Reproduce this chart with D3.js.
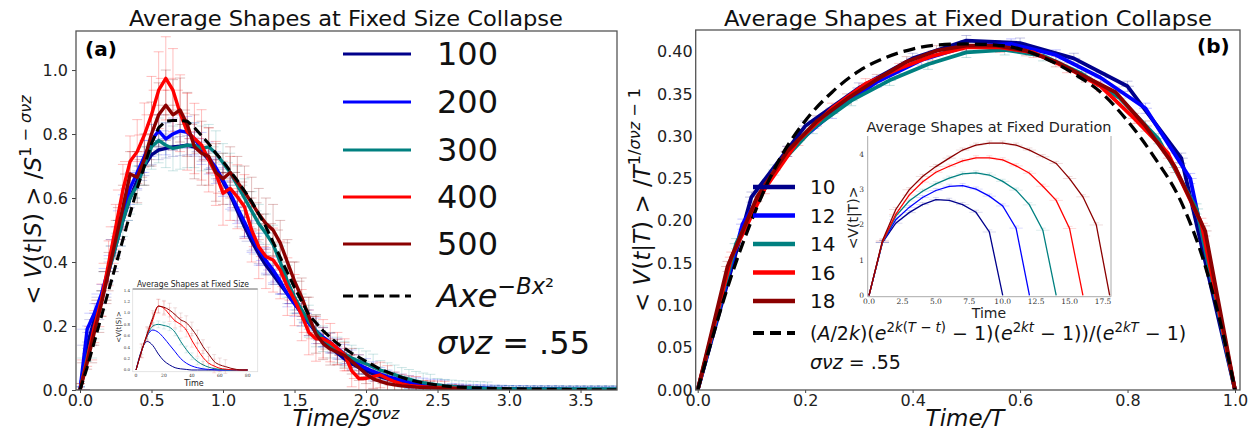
<!DOCTYPE html>
<html><head><meta charset="utf-8">
<script src="https://cdn.jsdelivr.net/npm/d3@7"></script>
<style>
body{margin:0;background:#fff;}
svg{display:block;font-family:"DejaVu Sans",sans-serif;}
</style></head><body>
<svg id="c" width="1256" height="433"></svg>
<script>
// ---------------- DATA ----------------
const sizeLabels = ["100","200","300","400","500"];
const durationLabels = ["10","12","14","16","18"];
const seriesColors = ["#00008b","#0000ff","#008080","#ff0000","#8b0000"];

// Panel (a): collapsed shapes, x = Time/S^σνz on a 0.05 grid
const leftStep = 0.05;
const s100 = [0,0.14,0.22,0.29,0.37,0.45,0.53,0.6,0.655,0.7,0.735,0.75,0.755,0.76,0.762,0.765,0.76,0.745,0.72,0.69,0.65,0.61,0.56,0.51,0.465,0.425,0.39,0.36,0.33,0.3,0.27,0.24,0.21,0.18,0.155,0.135,0.115,0.097,0.082,0.07,0.06,0.05,0.042,0.035,0.029,0.024,0.02,0.016,0.013,0.011,0.009,0.008,0.007,0.006,0.005,0.004,0.004,0.003,0.003,0.003,0.002,0.002,0.002,0.002,0.002,0.002,0.002,0.002,0.002,0.002,0.002,0.002,0.002,0.002,0.002,0.002,0.002];
const s200 = [0,0.19,0.24,0.3,0.38,0.47,0.56,0.63,0.68,0.73,0.78,0.81,0.785,0.8,0.81,0.805,0.785,0.755,0.725,0.695,0.655,0.615,0.57,0.525,0.48,0.44,0.405,0.375,0.34,0.3,0.27,0.24,0.21,0.185,0.165,0.148,0.13,0.112,0.095,0.08,0.068,0.058,0.05,0.042,0.036,0.03,0.025,0.02,0.017,0.014,0.012,0.011,0.01,0.009,0.008,0.007,0.007,0.006,0.005,0.005,0.004,0.004,0.004,0.003,0.003,0.003,0.003,0.003,0.002,0.002,0.002,0.002,0.002,0.002,0.002,0.002,0.002];
const s300 = [0,0.1,0.19,0.28,0.37,0.45,0.53,0.6,0.64,0.7,0.76,0.78,0.765,0.755,0.76,0.765,0.765,0.755,0.76,0.74,0.71,0.68,0.64,0.6,0.56,0.52,0.49,0.455,0.4,0.34,0.29,0.25,0.215,0.185,0.16,0.14,0.125,0.112,0.1,0.09,0.082,0.072,0.062,0.055,0.048,0.04,0.034,0.028,0.023,0.019,0.016,0.013,0.011,0.009,0.008,0.007,0.006,0.005,0.005,0.004,0.004,0.003,0.003,0.003,0.003,0.003,0.003,0.003,0.003,0.003,0.003,0.003,0.003,0.003,0.003,0.003,0.003];
const s400 = [0,0.094,0.198,0.281,0.396,0.51,0.625,0.714,0.745,0.797,0.86,0.937,0.974,0.937,0.865,0.807,0.786,0.766,0.719,0.677,0.615,0.63,0.604,0.573,0.5,0.448,0.417,0.406,0.375,0.323,0.281,0.234,0.18,0.16,0.16,0.148,0.13,0.11,0.06,0.036,0.036,0.042,0.047,0.036,0.026,0.019,0.014,0.012,0.01,0.009,0.008,0.007,0.006,0.005,0.004];
const s500 = [0,0.085,0.18,0.27,0.37,0.47,0.57,0.675,0.665,0.72,0.8,0.86,0.89,0.86,0.875,0.83,0.76,0.74,0.73,0.68,0.66,0.68,0.65,0.62,0.585,0.55,0.52,0.5,0.46,0.4,0.34,0.29,0.23,0.175,0.145,0.128,0.118,0.108,0.09,0.07,0.05,0.035,0.027,0.02,0.016,0.013,0.011,0.009,0.008,0.007,0.006,0.005,0.005,0.004,0.004];
// error bar half-heights on a 0.1 grid
const e100 = [0.01,0.02,0.03,0.03,0.03,0.03,0.03,0.03,0.03,0.03,0.03,0.03,0.03,0.03,0.03,0.02,0.02,0.02,0.02,0.02,0.01,0.01,0.01,0.01,0.01,0.01,0.01,0.01,0.01,0.01,0.01,0.01,0.01,0.01,0.01,0.01,0.01,0.01,0.01];
const e200 = [0.01,0.03,0.04,0.05,0.05,0.05,0.05,0.05,0.05,0.05,0.05,0.05,0.05,0.04,0.04,0.04,0.04,0.03,0.03,0.03,0.03,0.02,0.02,0.02,0.02,0.02,0.01,0.01,0.01,0.01,0.01,0.01,0.01,0.01,0.01,0.01,0.01,0.01,0.01];
const e300 = [0.01,0.03,0.04,0.05,0.06,0.07,0.07,0.07,0.07,0.07,0.06,0.06,0.06,0.06,0.05,0.05,0.05,0.04,0.04,0.04,0.04,0.03,0.03,0.03,0.03,0.02,0.02,0.02,0.02,0.01,0.01,0.01,0.01,0.01,0.01,0.01,0.01,0.01,0.01];
const e400 = [0.02,0.05,0.07,0.08,0.1,0.12,0.13,0.12,0.11,0.1,0.1,0.1,0.1,0.1,0.09,0.08,0.07,0.06,0.05,0.05,0.04,0.04,0.03,0.03,0.02,0.02,0.01,0.01];
const e500 = [0.02,0.04,0.06,0.07,0.08,0.1,0.11,0.1,0.1,0.09,0.08,0.08,0.08,0.08,0.07,0.06,0.06,0.05,0.04,0.04,0.03,0.03,0.02,0.02,0.02,0.01,0.01,0.01];
const leftXErr = 0.07;
// fit Axe^{-Bx^2}
const fitLX = [0,0.05,0.1,0.15,0.2,0.25,0.3,0.35,0.4,0.45,0.5,0.55,0.6,0.65,0.7,0.75,0.8,0.85,0.9,0.95,1.0,1.1,1.2,1.3,1.4,1.5,1.6,1.7,1.8,1.9,2.0,2.1,2.2,2.3,2.4,2.5,2.6,2.8,3.0,3.2,3.4,3.6,3.8];
const fitLY = [0,0.07,0.15,0.23,0.31,0.39,0.47,0.55,0.63,0.7,0.77,0.82,0.84,0.842,0.842,0.84,0.82,0.795,0.77,0.74,0.715,0.655,0.59,0.51,0.415,0.32,0.235,0.185,0.145,0.115,0.09,0.065,0.047,0.032,0.022,0.015,0.01,0.006,0.004,0.003,0.002,0.001,0.001];

// Panel (b): collapsed shapes, x = t/T (points t = 0..T)
const d10 = [0,0.228,0.312,0.357,0.392,0.413,0.41,0.392,0.359,0.274,0];
const d12 = [0,0.196,0.282,0.327,0.364,0.39,0.406,0.409,0.396,0.369,0.333,0.25,0];
const d14 = [0,0.173,0.26,0.309,0.342,0.366,0.385,0.399,0.402,0.395,0.374,0.345,0.297,0.214,0];
const d16 = [0,0.157,0.238,0.295,0.333,0.362,0.38,0.395,0.405,0.405,0.399,0.381,0.359,0.321,0.28,0.197,0];
const d18 = [0,0.146,0.229,0.282,0.318,0.344,0.367,0.388,0.401,0.407,0.407,0.401,0.388,0.37,0.352,0.312,0.263,0.188,0];
const rightXErr = 0.012, rightYErr = 0.006;
const fitRX = [0,0.02,0.05,0.1,0.15,0.2,0.25,0.3,0.35,0.4,0.45,0.5,0.55,0.6,0.65,0.7,0.75,0.8,0.85,0.9,0.95,0.98,1.0];
const fitRY = [0,0.045,0.11,0.2,0.27,0.318,0.352,0.377,0.393,0.403,0.408,0.409,0.408,0.403,0.391,0.374,0.352,0.318,0.275,0.222,0.135,0.06,0];

// Inset (a): raw shapes at fixed size, time grid step 4
const insetAStep = 4;
const ia100 = [0,0.35,0.5,0.43,0.28,0.16,0.09,0.04,0.02,0.01,0,0,0,0,0,0,0,0,0,0,0];
const ia200 = [0,0.33,0.6,0.7,0.66,0.56,0.44,0.32,0.2,0.12,0.07,0.04,0.02,0.01,0.005,0,0,0,0,0,0];
const ia300 = [0,0.33,0.6,0.77,0.8,0.78,0.75,0.66,0.5,0.36,0.24,0.15,0.09,0.05,0.025,0.012,0.005,0,0,0,0];
const ia400 = [0,0.33,0.62,0.88,1.12,1.08,0.97,0.86,0.8,0.7,0.52,0.36,0.22,0.12,0.07,0.03,0.015,0.005,0,0,0];
const ia500 = [0,0.34,0.64,0.92,1.12,1.1,1.05,0.97,0.88,0.83,0.72,0.58,0.41,0.28,0.15,0.09,0.06,0.03,0.01,0,0];
const insetAXTicks = [0,20,40,60,80];
const insetAYTicks = [0,0.2,0.4,0.6,0.8,1.0,1.2,1.4];

// Inset (b): raw shapes at fixed duration, t = 0..T
const ib10 = [0,1.5,2.05,2.35,2.58,2.72,2.7,2.58,2.36,1.8,0];
const ib12 = [0,1.5,2.15,2.5,2.78,2.98,3.1,3.12,3.02,2.82,2.54,1.91,0];
const ib14 = [0,1.5,2.25,2.68,2.96,3.17,3.33,3.45,3.48,3.42,3.24,2.99,2.57,1.85,0];
const ib16 = [0,1.52,2.3,2.85,3.22,3.5,3.67,3.82,3.91,3.91,3.85,3.68,3.47,3.1,2.7,1.9,0];
const ib18 = [0,1.55,2.44,3.0,3.38,3.66,3.9,4.13,4.27,4.33,4.33,4.27,4.13,3.94,3.75,3.32,2.8,2.0,0];
const insetBXTicks = [0,2.5,5,7.5,10,12.5,15,17.5];
const insetBYTicks = [0,1,2,3,4];

// axis ticks
const leftXTicks = [0,0.5,1.0,1.5,2.0,2.5,3.0,3.5];
const leftYTicks = [0,0.2,0.4,0.6,0.8,1.0];
const rightXTicks = [0,0.2,0.4,0.6,0.8,1.0];
const rightYTicks = [0,0.05,0.1,0.15,0.2,0.25,0.3,0.35,0.4];

// ---------------- DRAW ----------------
const svg = d3.select("#c");
svg.append("rect").attr("width",1256).attr("height",433).attr("fill","#fff");

function rich(sel, parts, fs, supShift) {
  const sh = supShift ?? fs * 0.42;
  let inSup = false;
  parts.forEach(([t, st]) => {
    const it = st.includes("i"), sp = st.includes("s");
    const ts = sel.append("tspan").text(t);
    if (it) ts.attr("font-style", "italic");
    if (sp) ts.attr("font-size", fs * 0.7);
    if (sp && !inSup) ts.attr("dy", -sh);
    if (!sp && inSup) ts.attr("dy", sh);
    inSup = sp;
  });
}

function frameAxes(g, x, y, xt, yt, xfmt, yfmt, opt) {
  const [x0, x1] = x.range(), [y0, y1] = y.range();
  const ax = g.append("g").attr("transform", `translate(0,${y0})`)
    .call(d3.axisBottom(x).tickValues(xt).tickFormat(xfmt).tickSizeOuter(0).tickSize(opt.xts).tickPadding(opt.xtp));
  const ay = g.append("g").attr("transform", `translate(${x0},0)`)
    .call(d3.axisLeft(y).tickValues(yt).tickFormat(yfmt).tickSizeOuter(0).tickSize(opt.yts).tickPadding(opt.ytp));
  [ax, ay].forEach(a => {
    a.select(".domain").remove();
    a.selectAll("text").attr("font-size", opt.fs).attr("fill", "#222").attr("font-family", "DejaVu Sans");
    a.selectAll("line").attr("stroke", "#444");
  });
  g.append("rect").attr("x", x0).attr("y", y1).attr("width", x1 - x0).attr("height", y0 - y1)
    .attr("fill", "none").attr("stroke", "#555").attr("stroke-width", 1.3);
}

// ===== Panel (a) =====
const xL = d3.scaleLinear().domain([-0.028, 3.755]).range([76, 617]);
const yL = d3.scaleLinear().domain([0, 1.122]).range([390, 31]);
const gA = svg.append("g");
svg.append("clipPath").attr("id", "clipA").append("rect").attr("x", 76).attr("y", 31).attr("width", 541).attr("height", 359);
const pA = gA.append("g").attr("clip-path", "url(#clipA)");

const leftSeries = [s100, s200, s300, s400, s500];
const leftErrs = [e100, e200, e300, e400, e500];
// error bars
leftSeries.forEach((vals, k) => {
  const eg = pA.append("g").attr("stroke", seriesColors[k]).attr("stroke-opacity", k >= 3 ? 0.26 : 0.2).attr("stroke-width", 1);
  vals.forEach((v, i) => {
    const xv = i * leftStep, e = leftErrs[k][Math.floor(i / 2)] ?? 0.01;
    const px = xL(xv);
    eg.append("line").attr("x1", px).attr("x2", px).attr("y1", yL(v - e)).attr("y2", yL(v + e));
    eg.append("line").attr("x1", px - 5).attr("x2", px + 5).attr("y1", yL(v - e)).attr("y2", yL(v - e));
    eg.append("line").attr("x1", px - 5).attr("x2", px + 5).attr("y1", yL(v + e)).attr("y2", yL(v + e));
    eg.append("line").attr("x1", xL(xv - leftXErr)).attr("x2", xL(xv + leftXErr)).attr("y1", yL(v)).attr("y2", yL(v));
  });
});
const lineL = d3.line().x((d, i) => xL(i * leftStep)).y(d => yL(d));
leftSeries.forEach((vals, k) => {
  pA.append("path").attr("d", lineL(vals)).attr("fill", "none").attr("stroke", seriesColors[k])
    .attr("stroke-width", 3.4).attr("stroke-linejoin", "round");
});
pA.append("path").attr("d", d3.line().x((d, i) => xL(fitLX[i])).y(d => yL(d))(fitLY))
  .attr("fill", "none").attr("stroke", "#000").attr("stroke-width", 3).attr("stroke-dasharray", "10,5");

frameAxes(gA, xL, yL, leftXTicks, leftYTicks, d3.format(".1f"), d3.format(".1f"),
  {xts: 3, xtp: 2, yts: 4, ytp: 4, fs: 16});

gA.append("text").attr("x", 346).attr("y", 26).attr("text-anchor", "middle").attr("font-size", 22)
  .attr("textLength", 434).attr("lengthAdjust", "spacingAndGlyphs").attr("fill", "#111")
  .text("Average Shapes at Fixed Size Collapse");
gA.append("text").attr("x", 85).attr("y", 56).attr("font-size", 20).attr("font-weight", "bold").text("(a)");
rich(gA.append("text").attr("transform", "translate(41,200) rotate(-90)").attr("text-anchor", "middle").attr("font-size", 23).attr("fill", "#111"),
  [["< ",""],["V","i"],["(",""],["t","i"],["|",""],["S","i"],[") > /",""],["S","i"],["1 − ","s"],["σνz","si"]], 23);
rich(gA.append("text").attr("x", 346).attr("y", 426).attr("text-anchor", "middle").attr("font-size", 23).attr("fill", "#111"),
  [["Time/S","i"],["σνz","si"]], 23, 7);

// legend (a)
const legAY = [54, 102, 150, 197, 244];
sizeLabels.forEach((lab, k) => {
  gA.append("line").attr("x1", 343).attr("x2", 411).attr("y1", legAY[k]).attr("y2", legAY[k])
    .attr("stroke", seriesColors[k]).attr("stroke-width", 3);
  gA.append("text").attr("x", 437).attr("y", legAY[k]).attr("dominant-baseline", "central")
    .attr("font-size", 32).attr("fill", "#111").text(lab);
});
gA.append("line").attr("x1", 343).attr("x2", 411).attr("y1", 296).attr("y2", 296)
  .attr("stroke", "#000").attr("stroke-width", 3).attr("stroke-dasharray", "10,5.5");
rich(gA.append("text").attr("x", 437).attr("y", 307).attr("font-size", 32).attr("fill", "#111"),
  [["Axe","i"],["−","s"],["Bx","si"],["²","s"]], 32);
rich(gA.append("text").attr("x", 437).attr("y", 354).attr("font-size", 32).attr("fill", "#111"),
  [["σνz","i"],[" = .55",""]], 32);

// inset (a)
const xIA = d3.scaleLinear().domain([-2.4, 87.2]).range([132.7, 257.7]);
const yIA = d3.scaleLinear().domain([-0.03, 1.42]).range([371.7, 289]);
const gIA = gA.append("g");
gIA.append("rect").attr("x", 132.7).attr("y", 289).attr("width", 125).attr("height", 82.7).attr("fill", "#fff")
  .attr("stroke", "#ddd").attr("stroke-width", 0.8);
gIA.append("line").attr("x1", 132.7).attr("x2", 257.7).attr("y1", 289).attr("y2", 289).attr("stroke", "#777").attr("stroke-width", 1);
const insetASeries = [ia100, ia200, ia300, ia400, ia500];
insetASeries.forEach((vals, k) => {
  if (k >= 2) {
    const eg = gIA.append("g").attr("stroke", seriesColors[k]).attr("stroke-opacity", 0.18).attr("stroke-width", 0.7);
    vals.forEach((v, i) => {
      if (v < 0.05) return;
      const px = xIA(i * insetAStep), e = k >= 3 ? 0.12 : 0.06;
      eg.append("line").attr("x1", px).attr("x2", px).attr("y1", yIA(v - e)).attr("y2", yIA(v + e));
      eg.append("line").attr("x1", px - 2).attr("x2", px + 2).attr("y1", yIA(v + e)).attr("y2", yIA(v + e));
      eg.append("line").attr("x1", px - 2).attr("x2", px + 2).attr("y1", yIA(v - e)).attr("y2", yIA(v - e));
    });
  }
  gIA.append("path").attr("d", d3.line().curve(d3.curveMonotoneX).x((d, i) => xIA(i * insetAStep)).y(d => yIA(d))(vals))
    .attr("fill", "none").attr("stroke", seriesColors[k]).attr("stroke-width", 1);
});
insetAXTicks.forEach(t => gIA.append("text").attr("x", xIA(t)).attr("y", 376.5).attr("text-anchor", "middle")
  .attr("font-size", 4.5).attr("font-family", "DejaVu Serif").attr("fill", "#333").text(t));
insetAYTicks.forEach(t => gIA.append("text").attr("x", 130).attr("y", yIA(t) + 1.5).attr("text-anchor", "end")
  .attr("font-size", 4).attr("font-family", "DejaVu Serif").attr("fill", "#333").text(t.toFixed(1)));
gIA.append("text").attr("x", 193).attr("y", 287).attr("text-anchor", "middle").attr("font-size", 8)
  .attr("textLength", 112).attr("lengthAdjust", "spacingAndGlyphs").attr("fill", "#222").text("Average Shapes at Fixed Size");
gIA.append("text").attr("x", 194).attr("y", 385.5).attr("text-anchor", "middle").attr("font-size", 8).attr("fill", "#222").text("Time");
gIA.append("text").attr("transform", "translate(121,327) rotate(-90)").attr("text-anchor", "middle").attr("font-size", 7).attr("fill", "#222").text("<V(t|S)>");

// ===== Panel (b) =====
const xR = d3.scaleLinear().domain([-0.0037, 1.0093]).range([695.7, 1240]);
const yR = d3.scaleLinear().domain([0, 0.4255]).range([390, 30]);
const gB = svg.append("g");
svg.append("clipPath").attr("id", "clipB").append("rect").attr("x", 695.7).attr("y", 30).attr("width", 544.3).attr("height", 360);
const pB = gB.append("g").attr("clip-path", "url(#clipB)");
const rightSeries = [d10, d12, d14, d16, d18];
rightSeries.forEach((vals, k) => {
  const eg = pB.append("g").attr("stroke", seriesColors[k]).attr("stroke-opacity", 0.24).attr("stroke-width", 1);
  const n = vals.length - 1;
  vals.forEach((v, i) => {
    if (i === 0 || i === n) return;
    const xv = i / n, px = xR(xv);
    eg.append("line").attr("x1", xR(xv - rightXErr)).attr("x2", xR(xv + rightXErr)).attr("y1", yR(v)).attr("y2", yR(v));
    eg.append("line").attr("x1", px).attr("x2", px).attr("y1", yR(v - rightYErr)).attr("y2", yR(v + rightYErr));
    eg.append("line").attr("x1", px - 5).attr("x2", px + 5).attr("y1", yR(v + rightYErr)).attr("y2", yR(v + rightYErr));
    eg.append("line").attr("x1", px - 5).attr("x2", px + 5).attr("y1", yR(v - rightYErr)).attr("y2", yR(v - rightYErr));
  });
});
rightSeries.forEach((vals, k) => {
  const n = vals.length - 1;
  pB.append("path").attr("d", d3.line().x((d, i) => xR(i / n)).y(d => yR(d))(vals))
    .attr("fill", "none").attr("stroke", seriesColors[k]).attr("stroke-width", 3.8).attr("stroke-linejoin", "round");
});
pB.append("path").attr("d", d3.line().curve(d3.curveMonotoneX).x((d, i) => xR(fitRX[i])).y(d => yR(d))(fitRY))
  .attr("fill", "none").attr("stroke", "#000").attr("stroke-width", 3.3).attr("stroke-dasharray", "12,6");

frameAxes(gB, xR, yR, rightXTicks, rightYTicks, d3.format(".1f"), d3.format(".2f"),
  {xts: 3, xtp: 2, yts: 0, ytp: 3, fs: 16});

gB.append("text").attr("x", 968).attr("y", 26).attr("text-anchor", "middle").attr("font-size", 22)
  .attr("textLength", 488).attr("lengthAdjust", "spacingAndGlyphs").attr("fill", "#111")
  .text("Average Shapes at Fixed Duration Collapse");
gB.append("text").attr("x", 1197).attr("y", 53).attr("font-size", 20).attr("font-weight", "bold").text("(b)");
rich(gB.append("text").attr("transform", "translate(650,200) rotate(-90)").attr("text-anchor", "middle").attr("font-size", 23).attr("fill", "#111"),
  [["< ",""],["V","i"],["(",""],["t","i"],["|",""],["T","i"],[") > /",""],["T","i"],["1/","s"],["σνz","si"],[" − 1","s"]], 23);
rich(gB.append("text").attr("x", 965).attr("y", 426).attr("text-anchor", "middle").attr("font-size", 23).attr("fill", "#111"),
  [["Time/T","i"]], 23);

// legend (b)
const legBY = [187, 215.5, 244, 272.5, 301];
durationLabels.forEach((lab, k) => {
  gB.append("line").attr("x1", 753).attr("x2", 795).attr("y1", legBY[k]).attr("y2", legBY[k])
    .attr("stroke", seriesColors[k]).attr("stroke-width", 4.5);
  gB.append("text").attr("x", 810).attr("y", legBY[k]).attr("dominant-baseline", "central")
    .attr("font-size", 20).attr("fill", "#111").text(lab);
});
gB.append("line").attr("x1", 753).attr("x2", 795).attr("y1", 333).attr("y2", 333)
  .attr("stroke", "#000").attr("stroke-width", 4).attr("stroke-dasharray", "11,6");
rich(gB.append("text").attr("x", 810).attr("y", 340).attr("font-size", 19).attr("fill", "#111"),
  [["(",""],["A","i"],["/2",""],["k","i"],[")(",""],["e","i"],["2","s"],["k","si"],["(","s"],["T","si"],[" − ","s"],["t","si"],[")","s"],[" − 1)(",""],["e","i"],["2","s"],["kt","si"],[" − 1))/(",""],["e","i"],["2","s"],["kT","si"],[" − 1)",""]], 19);
rich(gB.append("text").attr("x", 810).attr("y", 369).attr("font-size", 19).attr("fill", "#111"),
  [["σνz","i"],[" = .55",""]], 19);

// inset (b)
const xIB = d3.scaleLinear().domain([-0.1, 18.1]).range([867.7, 1111]);
const yIB = d3.scaleLinear().domain([-0.04, 4.53]).range([296.7, 136]);
const gIB = gB.append("g");
gIB.append("rect").attr("x", 867.7).attr("y", 136).attr("width", 243.3).attr("height", 160.7).attr("fill", "#fff");
gIB.append("path").attr("d", "M867.7,136V296.7H1111V136").attr("fill", "none").attr("stroke", "#aaa").attr("stroke-width", 1);
const insetBSeries = [ib10, ib12, ib14, ib16, ib18];
insetBSeries.forEach((vals, k) => {
  const eg = gIB.append("g").attr("stroke", seriesColors[k]).attr("stroke-opacity", 0.18).attr("stroke-width", 0.8);
  vals.forEach((v, i) => {
    if (i === 0 || i === vals.length - 1) return;
    const px = xIB(i);
    eg.append("line").attr("x1", xIB(i - 0.5)).attr("x2", xIB(i + 0.5)).attr("y1", yIB(v)).attr("y2", yIB(v));
    eg.append("line").attr("x1", px).attr("x2", px).attr("y1", yIB(v - 0.06)).attr("y2", yIB(v + 0.06));
    eg.append("line").attr("x1", px - 3).attr("x2", px + 3).attr("y1", yIB(v + 0.06)).attr("y2", yIB(v + 0.06));
  });
  gIB.append("path").attr("d", d3.line().x((d, i) => xIB(i)).y(d => yIB(d))(vals))
    .attr("fill", "none").attr("stroke", seriesColors[k]).attr("stroke-width", 1.3);
});
insetBXTicks.forEach(t => gIB.append("text").attr("x", xIB(t)).attr("y", 304).attr("text-anchor", "middle")
  .attr("font-size", 7.5).attr("font-family", "DejaVu Serif").attr("fill", "#333").text(t.toFixed(1)));
insetBYTicks.forEach(t => gIB.append("text").attr("x", 864).attr("y", yIB(t) + 2.5).attr("text-anchor", "end")
  .attr("font-size", 7.5).attr("font-family", "DejaVu Serif").attr("fill", "#333").text(t));
gIB.append("text").attr("x", 989).attr("y", 132).attr("text-anchor", "middle").attr("font-size", 14)
  .attr("textLength", 245).attr("lengthAdjust", "spacingAndGlyphs").attr("fill", "#222").text("Average Shapes at Fixed Duration");
gIB.append("text").attr("x", 989).attr("y", 318).attr("text-anchor", "middle").attr("font-size", 14).attr("fill", "#222").text("Time");
gIB.append("text").attr("transform", "translate(858,218) rotate(-90)").attr("text-anchor", "middle").attr("font-size", 14).attr("fill", "#222").text("<V(t|T)>");
</script></body></html>
